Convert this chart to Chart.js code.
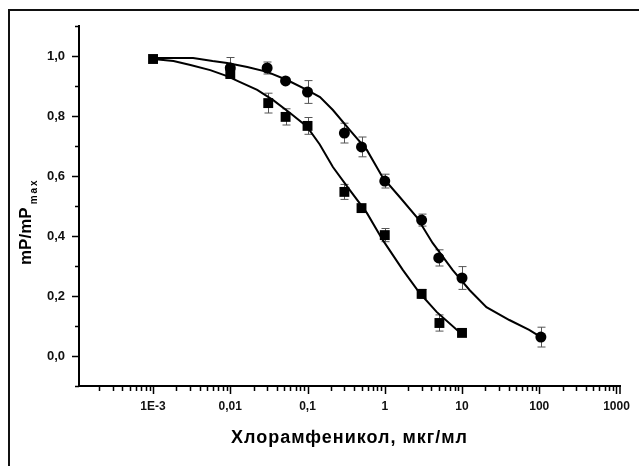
<!DOCTYPE html>
<html>
<head>
<meta charset="utf-8">
<script src="https://cdn.jsdelivr.net/npm/chart.js@4"></script>
<style>
  html, body { margin: 0; padding: 0; background: #fff; }
  #wrap { position: relative; width: 639px; height: 466px; overflow: hidden; }
  #frame { position: absolute; left: 8px; top: 9px; width: 700px; height: 500px; border: 2px solid #111; box-sizing: border-box; }
  canvas { position: absolute; left: 0; top: 0; }
</style>
</head>
<body>
<div id="wrap">
  <div id="frame"></div>
  <canvas id="chart" width="639" height="466"></canvas>
</div>
<script>
// squares
const sqX = [0.001, 0.01, 0.031, 0.052, 0.1, 0.3, 0.5, 1, 3, 5.1, 10];
const sqY = [0.99, 0.94, 0.843, 0.797, 0.767, 0.547, 0.493, 0.403, 0.207, 0.11, 0.077];
const sqErr = [0, 0, 0.033, 0.027, 0.028, 0.025, 0, 0.022, 0.015, 0.027, 0];

// circles
const ciX = [0.01, 0.03, 0.052, 0.1, 0.3, 0.5, 1, 3, 5, 10, 105];
const ciY = [0.96, 0.96, 0.917, 0.88, 0.743, 0.697, 0.583, 0.453, 0.327, 0.26, 0.063];
const ciErr = [0.035, 0.02, 0, 0.038, 0.033, 0.033, 0.023, 0.02, 0.027, 0.038, 0.033];

// fitted curves
const fitSqX = [0.001, 0.00184, 0.00305, 0.0055, 0.0091, 0.0134, 0.0223, 0.0359, 0.0594, 0.098, 0.144, 0.213, 0.353, 0.586, 0.94, 1.71, 2.83, 4.69, 8.75, 10];
const fitSqY = [0.99, 0.983, 0.97, 0.953, 0.933, 0.913, 0.887, 0.853, 0.81, 0.765, 0.705, 0.63, 0.553, 0.477, 0.387, 0.287, 0.21, 0.147, 0.085, 0.077];
const fitCiX = [0.001, 0.0033, 0.0059, 0.0091, 0.0166, 0.030, 0.0543, 0.098, 0.145, 0.213, 0.353, 0.586, 0.94, 1.56, 2.59, 4.16, 7.54, 12.5, 20.7, 41, 74, 105];
const fitCiY = [0.993, 0.993, 0.983, 0.977, 0.963, 0.947, 0.92, 0.887, 0.863, 0.82, 0.753, 0.687, 0.595, 0.53, 0.463, 0.377, 0.287, 0.22, 0.163, 0.12, 0.087, 0.063];

// axes
const xTickValues = [0.001, 0.01, 0.1, 1, 10, 100, 1000];
const xTickLabels = ['1E-3', '0,01', '0,1', '1', '10', '100', '1000'];
const yTickValues = [0, 0.2, 0.4, 0.6, 0.8, 1.0];
const yTickLabels = ['0,0', '0,2', '0,4', '0,6', '0,8', '1,0'];
const xTitle = 'Хлорамфеникол, мкг/мл';
const yTitle = 'mP/mP';
const yTitleSub = 'max';

const FONT = '"Liberation Sans", Arial, sans-serif';

const pts = (xs, ys) => xs.map((x, i) => ({ x: x, y: ys[i] }));
const near = (a, b) => Math.abs(a - b) < 1e-9 * Math.max(1, Math.abs(b));
const isDecade = v => Math.abs(Math.log10(v) - Math.round(Math.log10(v))) < 1e-9;

// all x ticks: 2..9 minors in every decade plus decades
const xAllTicks = [];
for (let e = -4; e <= 3; e++) {
  for (let m = 1; m <= 9; m++) {
    const v = m * Math.pow(10, e);
    if (v >= 1.1e-4 && v <= 1110) xAllTicks.push(v);
  }
}
const yAllTicks = [];
for (let i = -1; i <= 11; i++) yAllTicks.push(i / 10);

const decor = {
  id: 'decor',
  beforeDatasetsDraw(chart) {
    const ctx = chart.ctx, xs = chart.scales.x, ys = chart.scales.y;
    ctx.save();
    ctx.strokeStyle = '#555';
    ctx.lineWidth = 1;
    const bars = (X, Y, E) => X.forEach((x, i) => {
      if (!E[i]) return;
      const px = Math.round(xs.getPixelForValue(x)) + 0.5;
      const t = ys.getPixelForValue(Y[i] + E[i]);
      const b = ys.getPixelForValue(Y[i] - E[i]);
      ctx.beginPath();
      ctx.moveTo(px, t); ctx.lineTo(px, b);
      ctx.moveTo(px - 4, t); ctx.lineTo(px + 4, t);
      ctx.moveTo(px - 4, b); ctx.lineTo(px + 4, b);
      ctx.stroke();
    });
    bars(sqX, sqY, sqErr);
    bars(ciX, ciY, ciErr);
    ctx.restore();
  },
  afterDraw(chart) {
    const ctx = chart.ctx, xs = chart.scales.x, ys = chart.scales.y;
    const area = chart.chartArea;
    ctx.save();
    ctx.strokeStyle = '#000';
    ctx.lineWidth = 1.5;
    ctx.beginPath();
    xAllTicks.forEach(v => {
      const px = Math.round(xs.getPixelForValue(v)) + 0.5;
      const len = isDecade(v) ? 8 : 5;
      ctx.moveTo(px, area.bottom); ctx.lineTo(px, area.bottom + len);
    });
    ctx.moveTo(area.right, area.bottom); ctx.lineTo(area.right, area.bottom + 8);
    yAllTicks.forEach(v => {
      const py = Math.round(ys.getPixelForValue(v)) + 0.5;
      const major = Math.round(v * 10) % 2 === 0;
      const len = major ? 7 : 4;
      ctx.moveTo(area.left, py); ctx.lineTo(area.left - len, py);
    });
    ctx.stroke();

    // x title
    ctx.fillStyle = '#000';
    ctx.font = 'bold 18px ' + FONT;
    ctx.letterSpacing = '1px';
    ctx.textAlign = 'center';
    ctx.textBaseline = 'alphabetic';
    ctx.fillText(xTitle, (area.left + area.right) / 2, 443);

    // y title with subscript
    ctx.translate(31, 265);
    ctx.rotate(-Math.PI / 2);
    ctx.textAlign = 'left';
    ctx.letterSpacing = '0px';
    ctx.font = 'bold 17px ' + FONT;
    ctx.fillText(yTitle, 0, 0);
    const w = ctx.measureText(yTitle).width;
    ctx.font = 'bold 10px ' + FONT;
    ctx.letterSpacing = '2px';
    ctx.fillText(yTitleSub, w + 3, 6);
    ctx.restore();
  }
};

new Chart(document.getElementById('chart'), {
  type: 'scatter',
  data: {
    datasets: [
      { data: pts(fitSqX, fitSqY), showLine: true, borderColor: '#000', borderWidth: 2, pointRadius: 0, tension: 0 },
      { data: pts(fitCiX, fitCiY), showLine: true, borderColor: '#000', borderWidth: 2, pointRadius: 0, tension: 0 },
      { data: pts(ciX, ciY), pointStyle: 'circle', pointRadius: 5.5, backgroundColor: '#000', borderColor: '#000', borderWidth: 0 },
      { data: pts(sqX, sqY), pointStyle: 'rect', pointRadius: 7, backgroundColor: '#000', borderColor: '#000', borderWidth: 0 }
    ]
  },
  options: {
    responsive: false,
    animation: false,
    layout: { padding: { left: 0, top: 26, right: 19, bottom: 0 } },
    plugins: { legend: { display: false }, tooltip: { enabled: false } },
    scales: {
      x: {
        type: 'logarithmic',
        min: 1.1e-4,
        max: 1110,
        grid: { display: false, drawTicks: false },
        border: { display: true, color: '#000', width: 2 },
        afterBuildTicks: s => { s.ticks = xAllTicks.map(v => ({ value: v })); },
        afterFit: s => { s.height = 80; s.paddingLeft = 0; s.paddingRight = 0; },
        ticks: {
          autoSkip: false,
          maxRotation: 0,
          padding: 13,
          color: '#111',
          font: { family: FONT, size: 12, weight: 'bold' },
          callback: v => {
            const i = xTickValues.findIndex(t => near(v, t));
            return i >= 0 ? xTickLabels[i] : '';
          }
        }
      },
      y: {
        min: -0.1,
        max: 1.1,
        grid: { display: false, drawTicks: false },
        border: { display: true, color: '#000', width: 2 },
        afterBuildTicks: s => { s.ticks = yAllTicks.map(v => ({ value: v })); },
        afterFit: s => { s.width = 79; s.paddingTop = 0; s.paddingBottom = 0; },
        ticks: {
          autoSkip: false,
          padding: 14,
          color: '#111',
          font: { family: FONT, size: 13, weight: 'bold' },
          callback: v => {
            const i = yTickValues.findIndex(t => Math.abs(v - t) < 1e-6);
            return i >= 0 ? yTickLabels[i] : '';
          }
        }
      }
    }
  },
  plugins: [decor]
});
</script>
</body>
</html>
